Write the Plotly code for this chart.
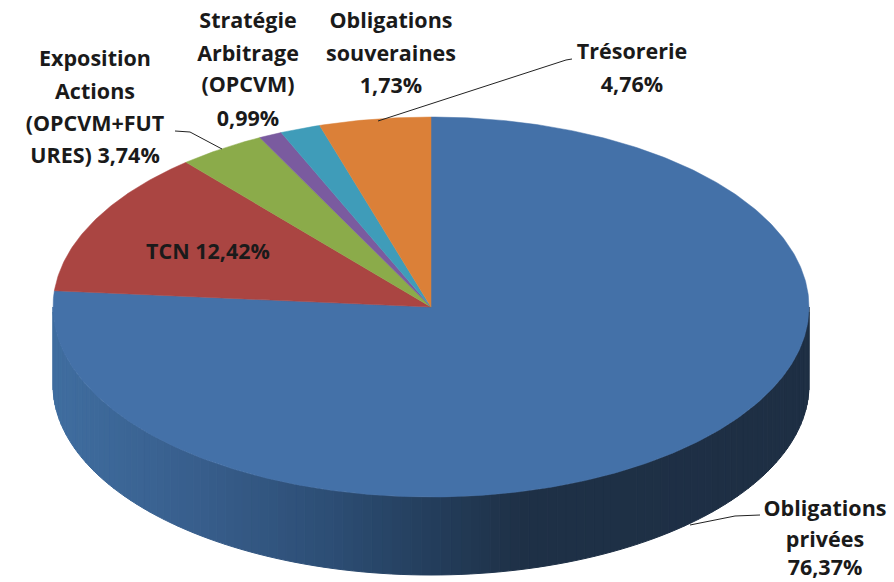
import numpy as np
import plotly.graph_objects as go

W, H = 894, 582

# ---- data -------------------------------------------------------------
categories = ["Obligations privées", "TCN", "Exposition Actions (OPCVM+FUTURES)",
              "Stratégie Arbitrage (OPCVM)", "Obligations souveraines", "Trésorerie"]
values = [76.37, 12.42, 3.74, 0.99, 1.73, 4.76]
top_colors = ["#4471a8", "#aa4542", "#8bab4a", "#7a5b9f", "#3f9cb9", "#db8038"]

label_lines = ["Exposition", "Actions", "(OPCVM+FUT", "URES) 3,74%",
               "Stratégie", "Arbitrage", "(OPCVM)", "0,99%",
               "Obligations", "souveraines", "1,73%",
               "Trésorerie", "4,76%",
               "TCN 12,42%",
               "Obligations", "privées", "76,37%"]
label_x = [95, 95, 95, 95, 248, 248, 248, 248, 391, 391, 391, 632, 632, 208, 825, 825, 825]
label_y = [61, 94, 126, 158, 23, 56, 87, 121, 23, 56, 88, 54, 87, 254, 511, 542, 570]

leader_x = [[175, 190, 222], [378, 566, 572], [690, 735, 760]]
leader_y = [[131, 132, 149], [121, 60, 59], [525, 516, 515]]

side_stops_x = [53, 200, 330, 432, 520, 808]
side_stops_rgb = [(64, 110, 160), (56, 94, 140), (45, 78, 117), (36, 62, 92), (31, 49, 71), (30, 47, 68)]

# ---- geometry ---------------------------------------------------------
cx, cy, rx, ry, depth = 431, 307, 378, 190, 78


def ell(turn):
    return cx + rx * np.sin(turn), cy - ry * np.cos(turn)


fig = go.Figure()

# side wall of the visible lower half, as thin shaded strips
turns = np.linspace(np.pi / 2, 3 * np.pi / 2, 121)
for a, b in zip(turns[:-1], turns[1:]):
    t = np.linspace(a, b, 4)
    x, y = ell(t)
    xs = np.r_[x, x[::-1], x[0]]
    ys = np.r_[y, y[::-1] + depth, y[0]]
    mid = x.mean()
    rgb = [int(np.interp(mid, side_stops_x, [c[i] for c in side_stops_rgb])) for i in range(3)]
    col = f"rgb({rgb[0]},{rgb[1]},{rgb[2]})"
    fig.add_trace(go.Scatter(x=xs, y=ys, mode="lines", fill="toself", fillcolor=col,
                             line=dict(color=col, width=1), hoverinfo="skip", showlegend=False))

# top face wedges, clockwise from 12 o'clock
cum = np.r_[0, np.cumsum(values)] / np.sum(values) * 2 * np.pi
for i, name in enumerate(categories):
    t = np.linspace(cum[i], cum[i + 1], max(3, int(values[i] * 6)))
    x, y = ell(t)
    fig.add_trace(go.Scatter(x=np.r_[cx, x, cx], y=np.r_[cy, y, cy], mode="lines", fill="toself",
                             fillcolor=top_colors[i], line=dict(color=top_colors[i], width=0.5),
                             name=name, text=f"{name}: {values[i]}%", hoverinfo="text", showlegend=False))

# leader lines
for lx, ly in zip(leader_x, leader_y):
    fig.add_trace(go.Scatter(x=lx, y=ly, mode="lines", line=dict(color="#222222", width=1),
                             hoverinfo="skip", showlegend=False))

# labels
fig.add_trace(go.Scatter(x=label_x, y=label_y, mode="text", text=label_lines, textposition="middle center",
                         textfont=dict(family="Open Sans", size=21.5, color="#1a1a1a", weight="bold"),
                         hoverinfo="skip", showlegend=False, cliponaxis=False))

fig.update_layout(width=W, height=H, margin=dict(l=0, r=0, t=0, b=0), paper_bgcolor="white",
                  plot_bgcolor="white", autosize=False,
                  xaxis=dict(range=[0, W], visible=False, fixedrange=True),
                  yaxis=dict(range=[H, 0], visible=False, fixedrange=True))
fig.write_html("out.html", config={"displayModeBar": False},
               post_script="document.body.style.margin='0';document.body.style.overflow='hidden';")
